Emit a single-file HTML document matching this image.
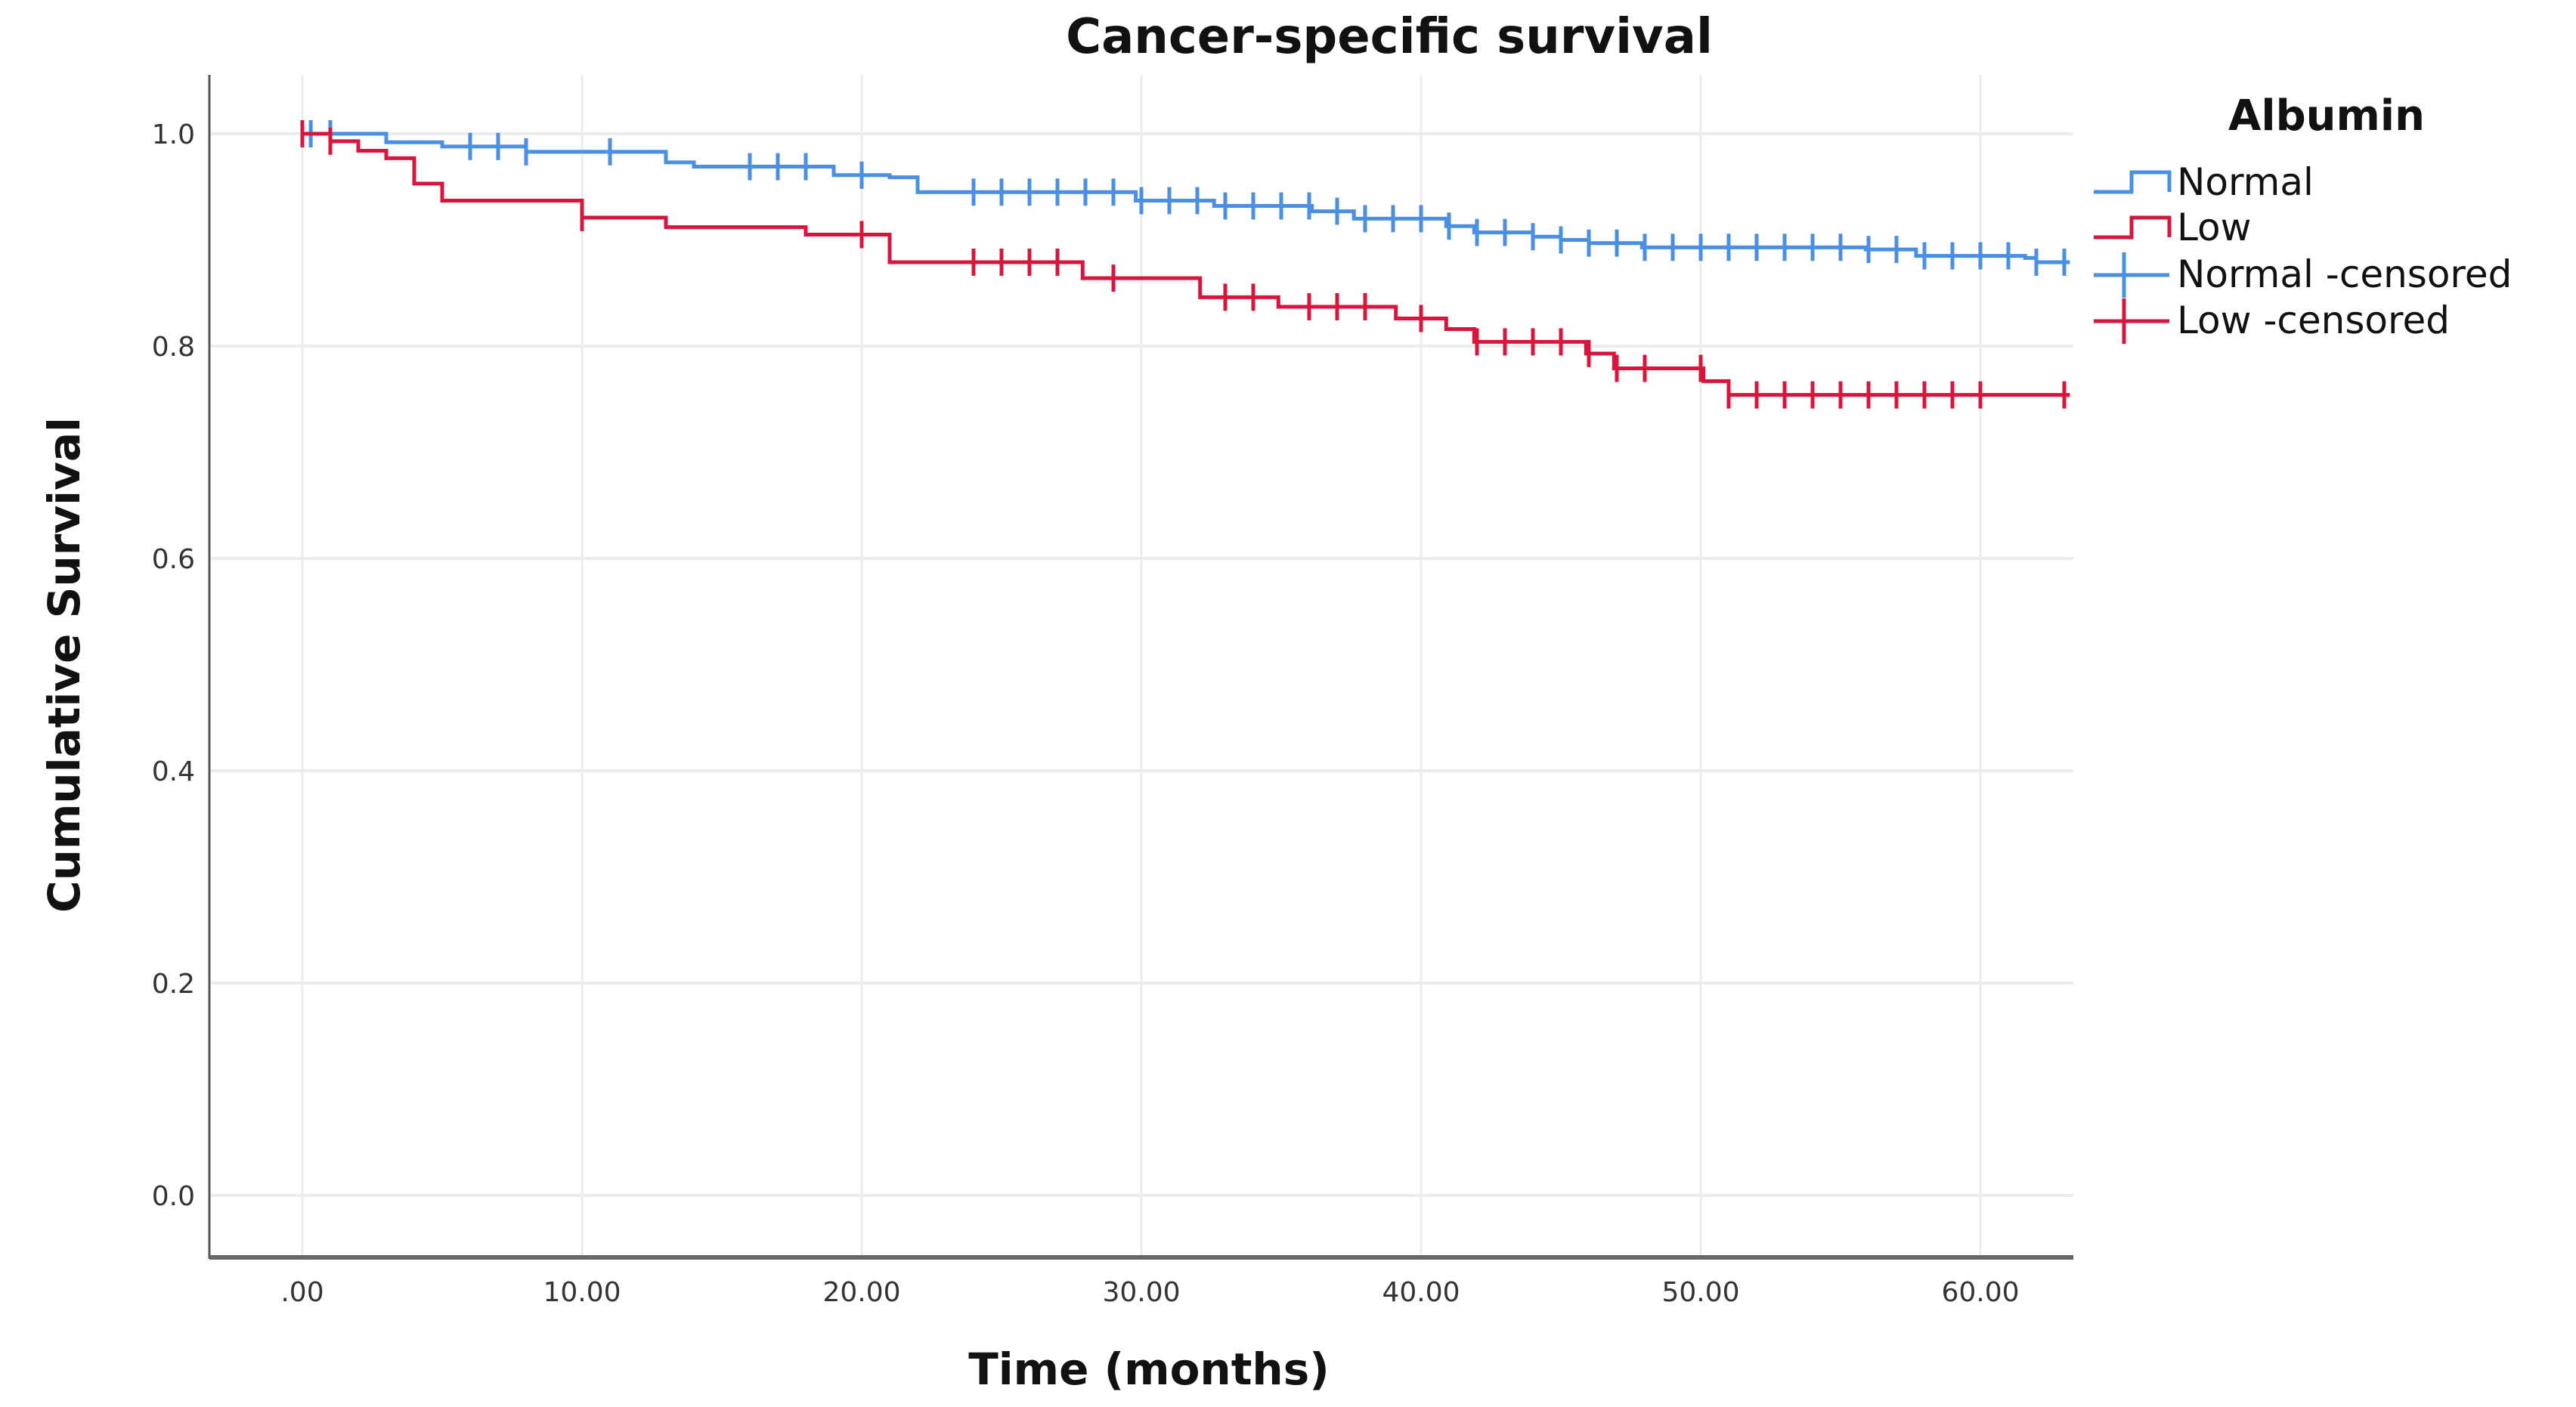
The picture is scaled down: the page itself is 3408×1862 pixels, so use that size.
<!DOCTYPE html>
<html><head><meta charset="utf-8"><style>
html,body{margin:0;padding:0;background:#fff;}
svg{display:block;font-family:"DejaVu Sans","Liberation Sans",sans-serif;}
</style></head><body>
<svg id="chart" width="3408" height="1862" viewBox="0 0 3408 1862" xmlns="http://www.w3.org/2000/svg">
<text x="1838" y="70" font-size="64" font-weight="bold" text-anchor="middle" fill="#111">Cancer-specific survival</text>
<g id="grid"></g>
<g id="axes"></g>
<g id="series"></g>
<text transform="translate(105,880) rotate(-90)" font-size="58" font-weight="bold" text-anchor="middle" fill="#111">Cumulative Survival</text>
<text x="1520" y="1832" font-size="58" font-weight="bold" text-anchor="middle" fill="#111">Time (months)</text>
<g>
<text x="3078" y="172" font-size="56" font-weight="bold" text-anchor="middle" fill="#111">Albumin</text>
<g><path d="M2770,254 H2820 V228 H2870 V254" fill="none" stroke="#4a90e2" stroke-width="5"/><text x="2880" y="258" font-size="50" fill="#111">Normal</text></g>
<g><path d="M2770,314 H2820 V288 H2870 V314" fill="none" stroke="#d6163f" stroke-width="5"/><text x="2880" y="318" font-size="50" fill="#111">Low</text></g>
<g><path d="M2770,364 H2870 M2810,334 V394" fill="none" stroke="#4a90e2" stroke-width="5"/><text x="2880" y="380" font-size="50" fill="#111">Normal -censored</text></g>
<g><path d="M2770,425 H2870 M2810,395 V455" fill="none" stroke="#d6163f" stroke-width="5"/><text x="2880" y="441" font-size="50" fill="#111">Low -censored</text></g>
</g>
</svg>
<script>
const xTicks=[0,10,20,30,40,50,60];
const xTickLabels=[".00","10.00","20.00","30.00","40.00","50.00","60.00"];
const yTicks=[0,0.2,0.4,0.6,0.8,1.0];
const yTickLabels=["0.0","0.2","0.4","0.6","0.8","1.0"];
const normalTimes=[0,3,5,8,13,14,19,21,22,29.8,32.6,36.1,37.6,40.9,41.9,44,45,46,47.9,55.9,57.7,61.6,62,63.2];
const normalSurv=[1,0.992,0.988,0.983,0.973,0.969,0.961,0.959,0.945,0.937,0.932,0.927,0.920,0.913,0.907,0.903,0.900,0.897,0.893,0.891,0.885,0.883,0.879,0.879];
const lowTimes=[0,1,2,3,4,5,10,13,18,21,27.9,32.1,34.9,39.1,40.9,41.9,45.9,46.9,50.1,51,63.2];
const lowSurv=[1,0.993,0.984,0.977,0.953,0.937,0.921,0.912,0.905,0.879,0.864,0.846,0.837,0.826,0.816,0.804,0.793,0.779,0.767,0.754,0.754];
const normalCensor=[0.3,1,6,7,8,11,16,17,18,20,24,25,26,27,28,29,30,31,32,33,34,35,36,37,38,39,40,41,42,43,44,45,46,47,48,49,50,51,52,53,54,55,56,57,58,59,60,61,62,63];
const lowCensor=[0,1,10,20,24,25,26,27,29,33,34,36,37,38,40,42,43,44,45,46,47,48,50,51,52,53,54,55,56,57,58,59,60,63];

const NS="http://www.w3.org/2000/svg";
const X0=400, PXM=37, Y1=177, Y0=1582;
const xs=t=>X0+t*PXM;
const ys=v=>Y0-(Y0-Y1)*v;
function mk(tag,attrs,parent){const e=document.createElementNS(NS,tag);for(const k in attrs)e.setAttribute(k,attrs[k]);parent.appendChild(e);return e;}
const grid=document.getElementById('grid'),axes=document.getElementById('axes'),series=document.getElementById('series');
xTicks.forEach((t,i)=>{
  const l=mk('line',{x1:xs(t),x2:xs(t),y1:99,y2:1662,stroke:'#ececec','stroke-width':3},grid);
  
  
  const tx=mk('text',{x:xs(t),y:1722,'font-size':36,'text-anchor':'middle',fill:'#333'},axes);
  tx.textContent=xTickLabels[i];
  
  
});
yTicks.forEach((v,i)=>{
  const l=mk('line',{x1:279,x2:2743,y1:ys(v),y2:ys(v),stroke:'#ececec','stroke-width':4},grid);
  
  
  const tx=mk('text',{x:258,y:ys(v)+13,'font-size':36,'text-anchor':'end',fill:'#333'},axes);
  tx.textContent=yTickLabels[i];
  
  
});
const ya=mk('line',{x1:277,x2:277,y1:99,y2:1666,stroke:'#555','stroke-width':3},axes);


const xa=mk('line',{x1:277,x2:2743,y1:1664,y2:1664,stroke:'#666','stroke-width':6},axes);



function survAt(times,surv,t){let s=surv[0];for(let i=0;i<times.length;i++){if(times[i]<=t)s=surv[i];}return s;}
function drawSeries(times,surv,cens,color,name){
  let d='M'+xs(times[0])+','+ys(surv[0]);
  for(let i=1;i<times.length;i++){d+=' H'+xs(times[i])+' V'+ys(surv[i]);}
  const p=mk('path',{d:d,fill:'none',stroke:color,'stroke-width':5},series);
  
  
  cens.forEach(t=>{
    const y=ys(survAt(times,surv,t));
    const m=mk('line',{x1:xs(t),x2:xs(t),y1:y-18,y2:y+18,stroke:color,'stroke-width':5},series);
    
    
  });
}
drawSeries(normalTimes,normalSurv,normalCensor,'#4a8fe3','normal');
drawSeries(lowTimes,lowSurv,lowCensor,'#d9143d','low');
</script>
</body></html>
